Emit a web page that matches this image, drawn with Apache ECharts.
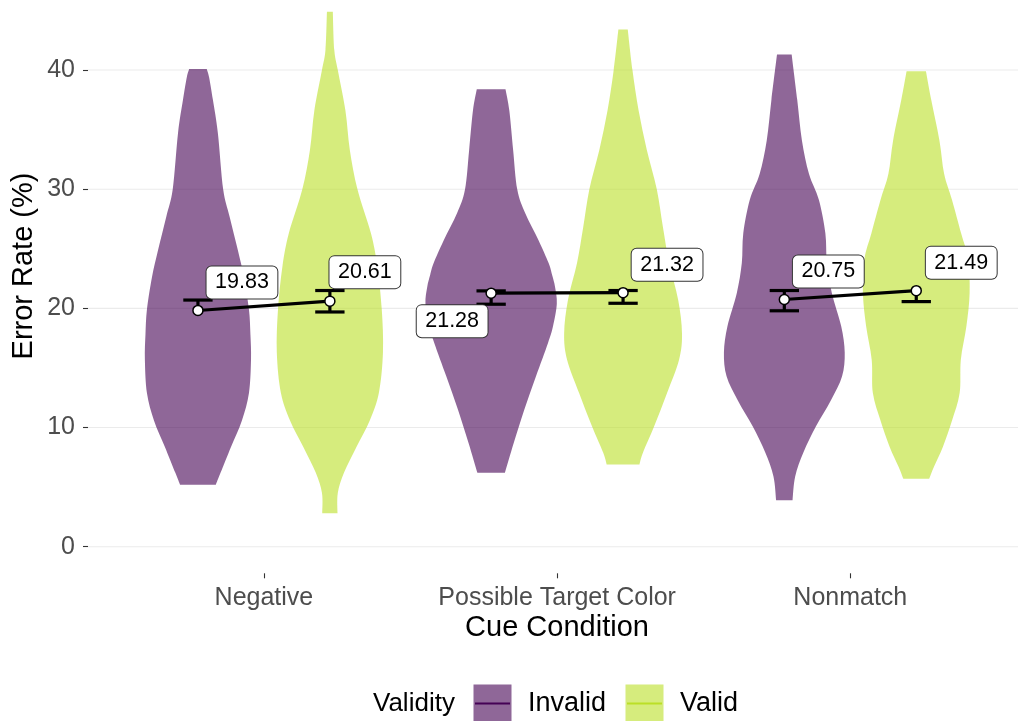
<!DOCTYPE html>
<html><head><meta charset="utf-8">
<script src="https://cdn.jsdelivr.net/npm/echarts@6/dist/echarts.min.js"></script>
<style>html,body{margin:0;padding:0;background:#fff}#c{width:1018px;height:721px}</style>
</head><body><div id="c"></div>
<script>
// ---- data ----
const categories = ['Negative', 'Possible Target Color', 'Nonmatch'];
const groups = ['Invalid', 'Valid'];
const yTicks = [0, 10, 20, 30, 40];
const meansInvalid = [19.83, 21.28, 20.75];
const meansValid = [20.61, 21.32, 21.49];
const errLowInvalid = [null, 20.35, 19.8];
const errHighInvalid = [20.7, 21.47, 21.5];
const errLowValid = [19.7, 20.43, 20.57];
const errHighValid = [21.5, 21.5, null];
// violin density profiles: [error rate, half-width in category units]
const violinInvalidNegative = [[5.2,0.061],[6.2,0.077],[8.4,0.113],[10.6,0.150],[12.9,0.174],[15.7,0.181],[17.8,0.179],[19.9,0.174],[22.6,0.157],[24.9,0.136],[27.7,0.108],[30,0.086],[34.7,0.068],[37.5,0.051],[39.4,0.038],[40.1,0.030]];
const violinValidNegative = [[2.8,0.026],[4.5,0.027],[6.2,0.048],[8.4,0.091],[10.6,0.136],[12.9,0.167],[16.3,0.181],[19.9,0.177],[23.5,0.162],[26.3,0.140],[30,0.094],[33.3,0.068],[36.6,0.053],[40,0.027],[41.7,0.015],[44.9,0.010]];
const violinInvalidPTC = [[6.2,0.047],[8.7,0.077],[11.5,0.113],[14.3,0.153],[17.1,0.194],[18.5,0.211],[20.4,0.224],[21.8,0.218],[22.8,0.208],[23.8,0.196],[25.7,0.162],[28,0.116],[30,0.089],[33.3,0.075],[36.6,0.062],[38.4,0.049]];
const violinValidPTC = [[6.9,0.056],[7.9,0.068],[10.1,0.106],[12.9,0.150],[15.7,0.191],[17.9,0.201],[20.7,0.188],[23.8,0.157],[26.8,0.136],[30,0.115],[33.3,0.081],[36.6,0.053],[40,0.032],[43.4,0.016]];
const violinInvalidNonmatch = [[3.9,0.028],[5.9,0.037],[7.9,0.065],[10.1,0.108],[12.3,0.159],[14.3,0.197],[16.3,0.206],[18.5,0.194],[21.3,0.162],[23.8,0.145],[26.3,0.140],[29.1,0.118],[31.3,0.084],[34.1,0.060],[37.5,0.044],[41.3,0.025]];
const violinValidNonmatch = [[5.7,0.044],[6.7,0.060],[8.4,0.091],[10.6,0.122],[12.9,0.148],[15.7,0.152],[18.5,0.171],[21.3,0.182],[24.1,0.177],[26.3,0.153],[29.1,0.122],[31.3,0.095],[34.1,0.079],[37.5,0.051],[39.9,0.033]];

const profiles = {
  Invalid: [violinInvalidNegative, violinInvalidPTC, violinInvalidNonmatch],
  Valid: [violinValidNegative, violinValidPTC, violinValidNonmatch]
};
const dodge = { Invalid: -0.225, Valid: 0.225 };
const fillColor = { Invalid: 'rgba(68,1,84,0.6)', Valid: 'rgba(187,223,39,0.6)' };
const lineColor = { Invalid: '#440154', Valid: '#BBDF27' };
const FONT = 'Liberation Sans, Arial, Helvetica, sans-serif';

const chart = echarts.init(document.getElementById('c'), null, { renderer: 'canvas' });

// smooth side path (Catmull-Rom -> cubic bezier), rendering only
function sidePath(pts, startWithMove) {
  let d = startWithMove ? 'M' + pts[0][0] + ' ' + pts[0][1] : 'L' + pts[0][0] + ' ' + pts[0][1];
  for (let i = 0; i < pts.length - 1; i++) {
    const p0 = pts[Math.max(0, i - 1)], p1 = pts[i], p2 = pts[i + 1], p3 = pts[Math.min(pts.length - 1, i + 2)];
    const c1 = [p1[0] + (p2[0] - p0[0]) / 6, p1[1] + (p2[1] - p0[1]) / 6];
    const c2 = [p2[0] - (p3[0] - p1[0]) / 6, p2[1] - (p3[1] - p1[1]) / 6];
    d += ' C' + c1[0] + ' ' + c1[1] + ' ' + c2[0] + ' ' + c2[1] + ' ' + p2[0] + ' ' + p2[1];
  }
  return d;
}

function violinSeries(g) {
  return {
    type: 'custom', name: g + ' violin', z: 2, silent: true,
    data: categories.map((c, i) => [i + 1, 0]),
    renderItem: function (params, api) {
      const xc = api.value(0) + dodge[g];
      const prof = profiles[g][params.dataIndex];
      const right = prof.map(p => api.coord([xc + p[1], p[0]]));
      const left = prof.slice().reverse().map(p => api.coord([xc - p[1], p[0]]));
      const d = sidePath(right, true) + ' ' + sidePath(left, false) + ' Z';
      return { type: 'path', shape: { pathData: d }, style: { fill: fillColor[g] } };
    }
  };
}

function errSeries(g, means, lows, highs) {
  return {
    type: 'custom', name: g + ' err', z: 3, silent: true,
    data: means.map((m, i) => [i + 1, m, lows[i] == null ? m : lows[i], highs[i] == null ? m : highs[i], lows[i] == null ? 0 : 1, highs[i] == null ? 0 : 1]),
    renderItem: function (params, api) {
      const x = api.value(0) + dodge[g];
      const lo = api.value(2), hi = api.value(3);
      const a = api.coord([x, hi]), b = api.coord([x, lo]);
      const cl = api.coord([x - 0.05, hi])[0], cr = api.coord([x + 0.05, hi])[0];
      const st = { stroke: '#000', lineWidth: 3.2 };
      const ch = [{ type: 'line', shape: { x1: a[0], y1: a[1], x2: b[0], y2: b[1] }, style: st }];
      if (api.value(5)) ch.push({ type: 'line', shape: { x1: cl, y1: a[1], x2: cr, y2: a[1] }, style: st });
      if (api.value(4)) ch.push({ type: 'line', shape: { x1: cl, y1: b[1], x2: cr, y2: b[1] }, style: st });
      return { type: 'group', children: ch };
    }
  };
}

const connectSeries = {
  type: 'custom', name: 'connect', z: 4, silent: true,
  data: categories.map((c, i) => [i + 1, meansInvalid[i], meansValid[i]]),
  renderItem: function (params, api) {
    const a = api.coord([api.value(0) + dodge.Invalid, api.value(1)]);
    const b = api.coord([api.value(0) + dodge.Valid, api.value(2)]);
    return { type: 'line', shape: { x1: a[0], y1: a[1], x2: b[0], y2: b[1] }, style: { stroke: '#000', lineWidth: 3.1 } };
  }
};

const labelOffsets = {
  Invalid: [[44, -28], [-39, 28], [44, -28]],
  Valid: [[35, -29], [44, -28], [45, -28]]
};

function pointSeries(g, means) {
  return {
    type: 'custom', name: g, z: 5, silent: true,
    data: means.map((m, i) => [i + 1, m]),
    renderItem: function (params, api) {
      const v = api.value(1);
      const p = api.coord([api.value(0) + dodge[g], v]);
      const off = labelOffsets[g][params.dataIndex];
      return {
        type: 'group', children: [
          { type: 'circle', shape: { cx: p[0], cy: p[1], r: 5 }, style: { fill: '#fff', stroke: '#000', lineWidth: 1.5 } },
          { type: 'text', x: p[0] + off[0], y: p[1] + off[1], z2: 10,
            style: { text: v.toFixed(2), font: '21.5px ' + FONT, fill: '#000', align: 'center', verticalAlign: 'middle',
              backgroundColor: '#fff', borderColor: '#333', borderWidth: 1, borderRadius: 5, padding: [5, 8.5, 4, 8.5], lineHeight: 23 } }
        ]
      };
    }
  };
}

const gridSeries = {
  type: 'custom', name: 'grid', z: 0, silent: true,
  data: yTicks.map(v => [1, v]),
  renderItem: function (params, api) {
    const cs = params.coordSys;
    const y = api.coord([1, api.value(1)])[1];
    return { type: 'line', shape: { x1: cs.x, y1: y, x2: cs.x + cs.width, y2: y }, style: { stroke: '#EBEBEB', lineWidth: 1.1 } };
  }
};

const option = {
  animation: false,
  backgroundColor: '#fff',
  grid: { left: 88, right: 0, top: 0, bottom: 147.7, containLabel: false },
  xAxis: {
    type: 'value', min: 0.4, max: 3.572,
    splitLine: { show: false }, axisLine: { show: false, onZero: false },
    axisTick: { show: true, length: 5, lineStyle: { color: '#333', width: 1.1 }, customValues: [1, 2, 3] },
    axisLabel: { customValues: [1, 2, 3], formatter: v => categories[Math.round(v) - 1], fontFamily: FONT, fontSize: 25, color: '#4D4D4D', margin: 12 }
  },
  yAxis: {
    type: 'value', min: -2.23, max: 45.88,
    splitLine: { show: false }, axisLine: { show: false, onZero: false },
    axisTick: { show: true, length: 5, lineStyle: { color: '#333', width: 1.1 }, customValues: yTicks },
    axisLabel: { customValues: yTicks, fontFamily: FONT, fontSize: 25, color: '#4D4D4D', margin: 13 }
  },
  series: [
    gridSeries,
    violinSeries('Invalid'), violinSeries('Valid'),
    errSeries('Invalid', meansInvalid, errLowInvalid, errHighInvalid),
    errSeries('Valid', meansValid, errLowValid, errHighValid),
    connectSeries,
    pointSeries('Invalid', meansInvalid), pointSeries('Valid', meansValid)
  ],
  graphic: [
    { type: 'text', x: 557, y: 627.5, style: { text: 'Cue Condition', font: '29px ' + FONT, fill: '#000', align: 'center', verticalAlign: 'middle' } },
    { type: 'text', x: 24, y: 266, rotation: Math.PI / 2, style: { text: 'Error Rate (%)', font: '29px ' + FONT, fill: '#000', align: 'center', verticalAlign: 'middle' } },
    { type: 'text', x: 373, y: 704, style: { text: 'Validity', font: '26px ' + FONT, fill: '#000', align: 'left', verticalAlign: 'middle' } },
    { type: 'rect', shape: { x: 473.5, y: 684.5, width: 38, height: 38 }, style: { fill: fillColor.Invalid } },
    { type: 'line', shape: { x1: 475, y1: 703.5, x2: 510, y2: 703.5 }, style: { stroke: lineColor.Invalid, lineWidth: 2 } },
    { type: 'text', x: 528, y: 704, style: { text: 'Invalid', font: '27px ' + FONT, fill: '#000', align: 'left', verticalAlign: 'middle' } },
    { type: 'rect', shape: { x: 625.5, y: 684.5, width: 38, height: 38 }, style: { fill: fillColor.Valid } },
    { type: 'line', shape: { x1: 627, y1: 703.5, x2: 662, y2: 703.5 }, style: { stroke: lineColor.Valid, lineWidth: 2 } },
    { type: 'text', x: 680, y: 704, style: { text: 'Valid', font: '27px ' + FONT, fill: '#000', align: 'left', verticalAlign: 'middle' } }
  ]
};
chart.setOption(option);
</script>
</body></html>
